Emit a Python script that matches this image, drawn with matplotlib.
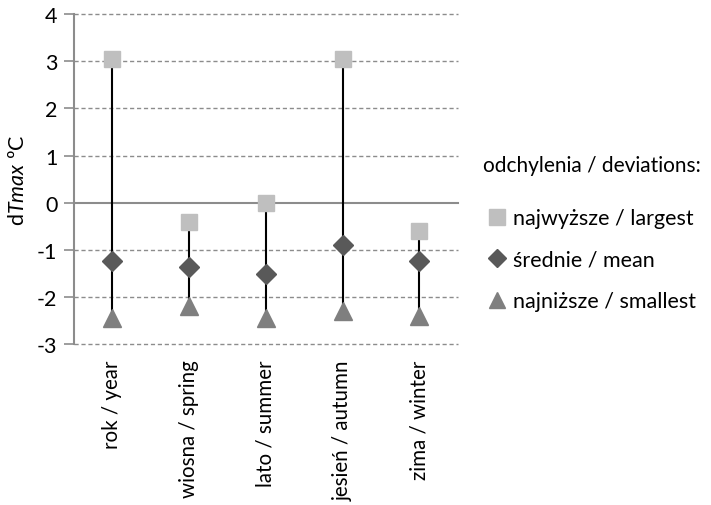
import matplotlib
matplotlib.use("Agg")
import matplotlib.pyplot as plt

plt.rcParams['font.family'] = ['Lato', 'DejaVu Sans']
plt.rcParams['mathtext.fontset'] = 'custom'
plt.rcParams['mathtext.it'] = 'Lato:italic'
plt.rcParams['mathtext.rm'] = 'Lato'

categories = ["rok / year", "wiosna / spring", "lato / summer", "jesień / autumn", "zima / winter"]
largest = [3.05, -0.40, 0.0, 3.05, -0.59]
mean = [-1.23, -1.36, -1.51, -0.90, -1.23]
smallest = [-2.44, -2.19, -2.45, -2.30, -2.40]
yticks = [-3, -2, -1, 0, 1, 2, 3, 4]

FS = 15.5

fig = plt.figure(figsize=(7.11, 5.06), dpi=100)
ax = fig.add_axes([0.104, 0.318, 0.540, 0.652])

x = list(range(len(categories)))
ax.vlines(x, smallest, largest, color='black', lw=1.5, zorder=2)
l1, = ax.plot(x, largest, ls='none', marker='s', ms=12, color='#BFBFBF', zorder=3,
              label='najwyższe / largest')
l2, = ax.plot(x, mean, ls='none', marker='D', ms=10, color='#595959', zorder=3,
              label='średnie / mean')
l3, = ax.plot(x, smallest, ls='none', marker='^', ms=13, color='#7F7F7F', zorder=3,
              label='najniższe / smallest')

ax.set_xlim(-0.5, len(categories) - 0.5)
ax.set_ylim(-3, 4)
ax.set_yticks(yticks)
ax.set_yticklabels([str(t) for t in yticks])
ax.set_xticks(x)
ax.set_xticklabels(categories, rotation=90, fontsize=14.8)
ax.tick_params(axis='x', length=0, pad=11)
ax.tick_params(axis='y', length=7, color='#8C8C8C', width=1.2, labelsize=FS, pad=5)

for t in yticks:
    if t == 0:
        ax.axhline(t, color='#8C8C8C', lw=1.5, zorder=1, clip_on=False)
    else:
        ax.axhline(t, color='#8C8C8C', lw=1.0, ls=(0, (3, 2)), zorder=1, clip_on=False)

for s in ['top', 'right', 'bottom']:
    ax.spines[s].set_visible(False)
ax.spines['left'].set_color('#8C8C8C')
ax.spines['left'].set_linewidth(1.5)

ax.set_ylabel('d$\\mathit{Tmax}$ ºC', fontsize=FS, labelpad=6)

leg = fig.legend(handles=[l1, l2, l3], loc='upper left', bbox_to_anchor=(0.658, 0.722),
                 frameon=False, fontsize=FS, title='odchylenia / deviations:',
                 title_fontsize=15, handlelength=1.3, handletextpad=0.1,
                 labelspacing=1.0, alignment='left', markerscale=0.92,
                 borderpad=0.2)
leg._legend_box.sep = 24

fig.savefig('out.png', dpi=100)
